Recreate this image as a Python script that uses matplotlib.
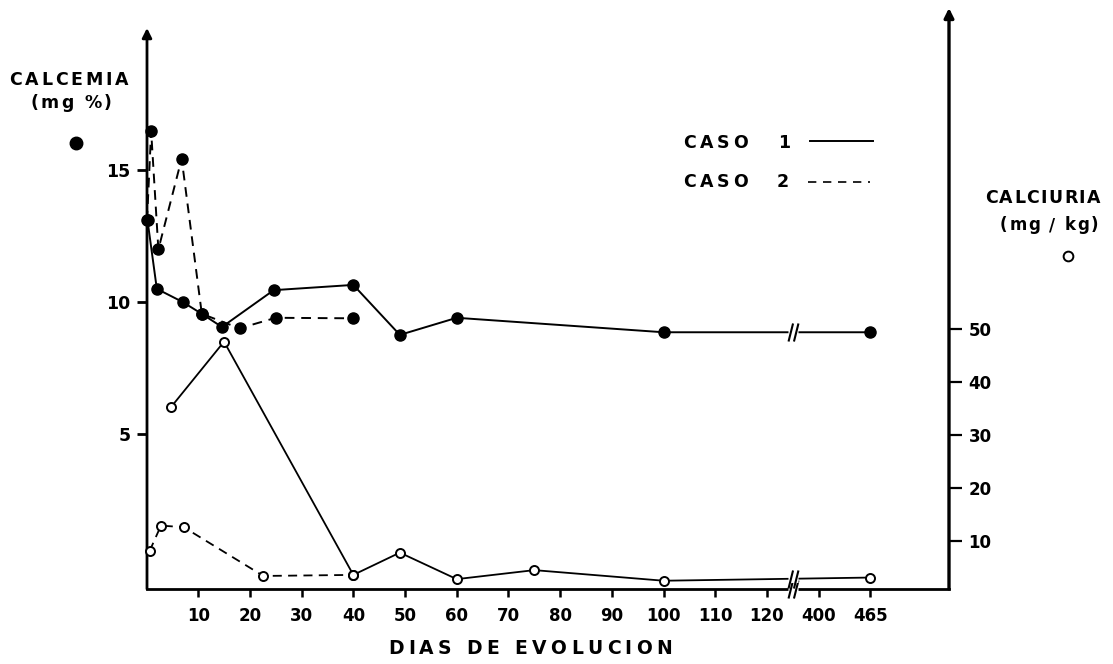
import numpy as np
import matplotlib
matplotlib.use("Agg")
import matplotlib.pyplot as plt
from matplotlib.lines import Line2D
from matplotlib.path import Path
from matplotlib.textpath import TextToPath
from matplotlib.font_manager import FontProperties

# Calcemia (mg %), left axis
CASO1_CALCEMIA_DIAS = [0.2, 2, 7, 10.7, 14.6, 24.6, 40, 49, 60, 100, 465]
CASO1_CALCEMIA = [13.1, 10.5, 10.0, 9.55, 9.05, 10.45, 10.65, 8.75, 9.4, 8.85, 8.85]
CASO2_CALCEMIA_DIAS = [0.1, 0.9, 2.3, 6.8, 10.7, 18, 25, 40]
CASO2_CALCEMIA = [13.1, 16.5, 12.0, 15.45, 9.55, 9.0, 9.4, 9.38]

# Calciuria (mg/kg), right axis
CASO1_CALCIURIA_DIAS = [4.7, 15, 40, 49, 60, 75, 100, 465]
CASO1_CALCIURIA = [35.2, 47.6, 3.6, 7.8, 2.8, 4.5, 2.5, 3.1]
CASO2_CALCIURIA_DIAS = [0.6, 2.8, 7.2, 22.6, 40]
CASO2_CALCIURIA = [8.1, 12.9, 12.6, 3.4, 3.6]

XTICK_DIAS = [10, 20, 30, 40, 50, 60, 70, 80, 90, 100, 110, 120, 400, 465]
XTICK_LABELS = ["10", "20", "30", "40", "50", "60", "70", "80", "90", "100", "110", "120", "400", "465"]
LEFT_TICKS = [5, 10, 15]
RIGHT_TICKS = [10, 20, 30, 40, 50]

BREAK_DAY = 125


def to_axis(days):
    # broken x axis: linear up to 125 days, then 400 -> 130 and 465 -> 140
    d = np.asarray(days, dtype=float)
    return np.where(d <= BREAK_DAY, d, 130 + (d - 400) * 10 / 65)


plt.rcParams["font.family"] = ["DejaVu Sans"]
W, H = 1113, 664
fig = plt.figure(figsize=(W / 100, H / 100), dpi=100)
ttp = TextToPath()


def spaced_text(x0, x1, y, s, size=13, weight="bold"):
    """Write s letter by letter so that it spans pixels x0..x1 (lettering look)."""
    prop = FontProperties(family="DejaVu Sans", size=size, weight=weight)
    widths = [ttp.get_text_width_height_descent(c, prop, ismath=False)[0] * 100 / 72 for c in s]
    gap = (x1 - x0 - sum(widths)) / max(len(s) - 1, 1)
    x = x0
    for c, w in zip(s, widths):
        if c != " ":
            fig.text(x / W, 1 - y / H, c, ha="left", va="center", fontproperties=prop)
        x += w + gap


L, R, B, T = 147, 949, 589, 40
ax = fig.add_axes([L / W, 1 - B / H, (R - L) / W, (B - T) / H])
ax2 = ax.twinx()

ax.set_xlim(0.1, 155.2)
ax.set_ylim(-0.91, 19.96)
ax2.set_ylim(0.94, 104.5)

for a in (ax, ax2):
    for s in ("top", "left", "right"):
        a.spines[s].set_visible(False)
ax2.spines["bottom"].set_visible(False)
ax.spines["bottom"].set_linewidth(2)

dash = (0, (5, 3.5))
ms_fill, ms_open = 8, 6.5

ax.plot(to_axis(CASO1_CALCEMIA_DIAS), CASO1_CALCEMIA, "-", color="k", lw=1.4,
        marker="o", ms=ms_fill, mfc="k", mec="k", clip_on=False, zorder=3)
ax.plot(to_axis(CASO2_CALCEMIA_DIAS), CASO2_CALCEMIA, linestyle=dash, color="k", lw=1.4,
        marker="o", ms=ms_fill, mfc="k", mec="k", clip_on=False, zorder=3)
ax2.plot(to_axis(CASO1_CALCIURIA_DIAS), CASO1_CALCIURIA, "-", color="k", lw=1.3,
         marker="o", ms=ms_open, mfc="white", mec="k", mew=1.4, clip_on=False, zorder=3)
ax2.plot(to_axis(CASO2_CALCIURIA_DIAS), CASO2_CALCIURIA, linestyle=dash, color="k", lw=1.3,
         marker="o", ms=ms_open, mfc="white", mec="k", mew=1.4, clip_on=False, zorder=3)

# ticks
ax.set_xticks(to_axis(XTICK_DIAS))
ax.set_xticklabels(XTICK_LABELS, fontweight="bold")
ax.tick_params(axis="x", direction="out", length=6, width=1.8, pad=7, labelsize=12)
ax.set_yticks(LEFT_TICKS)
ax.set_yticklabels([str(v) for v in LEFT_TICKS], fontweight="bold")
ax.tick_params(axis="y", direction="out", length=7, width=2, pad=5, labelsize=12.5)
ax2.set_yticks(RIGHT_TICKS)
ax2.set_yticklabels([str(v) for v in RIGHT_TICKS], fontweight="bold")
ax2.tick_params(axis="y", direction="out", length=9, width=1.6, pad=5, labelsize=12)

# axes drawn as arrows
arrow = dict(arrowstyle="-|>", lw=2, color="k", mutation_scale=14, shrinkA=0, shrinkB=0)
ax.annotate("", xy=(0, (B - 28) / (B - T)), xytext=(0, 0), xycoords="axes fraction",
            arrowprops=arrow, annotation_clip=False)
ax.annotate("", xy=(1, (B - 8) / (B - T)), xytext=(1, 0), xycoords="axes fraction",
            arrowprops=dict(arrow, lw=2.4), annotation_clip=False)

# break marks on the axis and on the long lines
brk = Path([(-0.55, -1), (-0.05, 1), (0.05, -1), (0.55, 1)],
           [Path.MOVETO, Path.LINETO, Path.MOVETO, Path.LINETO])
bx = to_axis([BREAK_DAY])[0]
y_c1 = np.interp(bx, to_axis(CASO1_CALCEMIA_DIAS), CASO1_CALCEMIA)
y_u1 = np.interp(bx, to_axis(CASO1_CALCIURIA_DIAS), CASO1_CALCIURIA)
for a, yv in ((ax, -0.91), (ax, y_c1), (ax2, y_u1)):
    a.plot([bx], [yv], marker="_", ms=7, mew=5, color="white", clip_on=False, zorder=4)
    a.plot([bx], [yv], marker=brk, ms=13, mew=1.5, color="k", mfc="none", clip_on=False, zorder=5)

# axis titles
spaced_text(388, 672, 648, "DIAS DE EVOLUCION", size=13.5)
spaced_text(9, 128, 80, "CALCEMIA", size=12.5)
spaced_text(30, 112, 103, "(mg %)", size=12.5)
fig.add_artist(Line2D([76 / W], [1 - 143 / H], marker="o", ms=9, color="k",
                      transform=fig.transFigure))
spaced_text(985, 1100, 198, "CALCIURIA", size=12.5)
spaced_text(1000, 1098, 225, "(mg / kg)", size=12)
fig.add_artist(Line2D([1068 / W], [1 - 256 / H], marker="o", ms=7, mfc="white", mec="k",
                      mew=1.4, color="k", transform=fig.transFigure))

# legend
spaced_text(683, 748, 143, "CASO", size=12.5)
spaced_text(778, 786, 143, "1", size=12.5)
fig.add_artist(Line2D([810 / W, 873 / W], [1 - 141 / H] * 2, color="k", lw=1.4,
                      transform=fig.transFigure))
spaced_text(683, 748, 182, "CASO", size=12.5)
spaced_text(777, 790, 182, "2", size=12.5)
fig.add_artist(Line2D([808 / W, 870 / W], [1 - 182 / H] * 2, color="k", lw=1.2,
                      linestyle=(0, (5, 4)), transform=fig.transFigure))

fig.savefig("out.png", dpi=100)
